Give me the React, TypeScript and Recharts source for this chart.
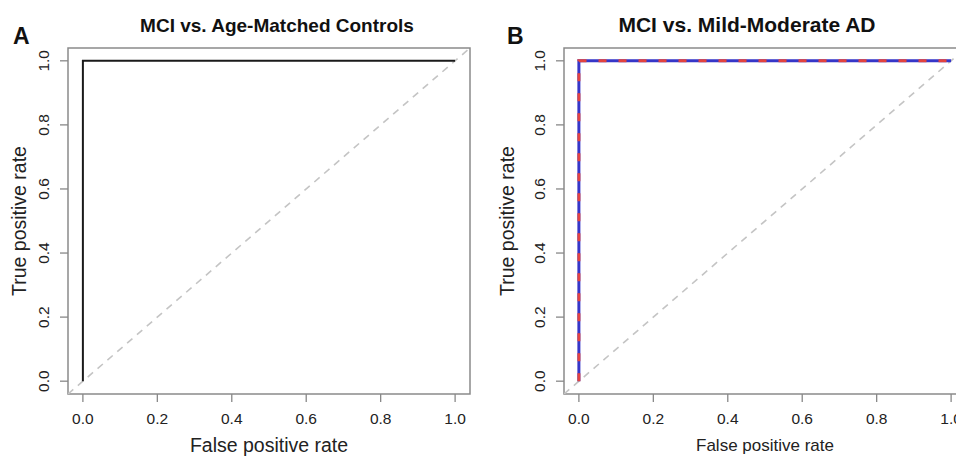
import { LineChart, Line, XAxis, YAxis, ReferenceArea } from "recharts";

// axis setup (R style, 4% padding each side)
const LIM = [-0.04, 1.04];
const TICKS = [0, 0.2, 0.4, 0.6, 0.8, 1];
const TICK_LABELS = ["0.0", "0.2", "0.4", "0.6", "0.8", "1.0"];

// chance diagonal
const chanceX = [-0.04, 1.04];
const chanceY = [-0.04, 1.04];

// panel A: MCI vs age-matched controls
const fprA = [0, 0, 1];
const tprA = [0, 1, 1];

// panel B: MCI vs mild-moderate AD (two overlapping curves)
const fprB1 = [0, 0, 1];
const tprB1 = [0, 1, 1];
const fprB2 = [0, 0, 1];
const tprB2 = [0, 1, 1];

const FONT = "'Liberation Sans', Arial, sans-serif";
const pts = (xs: number[], ys: number[]) => xs.map((x, i) => ({ x, y: ys[i] }));
const fmt = (v: number) => TICK_LABELS[TICKS.indexOf(v)] ?? v.toFixed(1);

function XTick({ x, y, payload, fs }: any) {
  return (
    <text x={x} y={y + 14} textAnchor="middle" dominantBaseline="central" fontSize={fs} fill="#222" fontFamily={FONT}>
      {fmt(payload.value)}
    </text>
  );
}

function YTick({ y, payload, cx, fs }: any) {
  return (
    <text x={cx} y={y} transform={`rotate(-90, ${cx}, ${y})`} textAnchor="middle" dominantBaseline="central" fontSize={fs} fill="#222" fontFamily={FONT}>
      {fmt(payload.value)}
    </text>
  );
}

function Panel({ width, left, yAxisW, yTickX, yLabelOff, xLabelFs, xLabelOff, children }: any) {
  return (
    <LineChart width={width} height={456} margin={{ top: 48, right: width - left - 402 - yAxisW, left: left, bottom: 0 }}>
      <XAxis type="number" dataKey="x" domain={LIM} ticks={TICKS} allowDataOverflow axisLine={false} tickSize={8}
        tickLine={{ stroke: "#888", strokeWidth: 1.3 }} height={62} tick={<XTick fs={15.5} />}
        label={{ value: "False positive rate", position: "insideBottom", offset: xLabelOff, style: { fontSize: xLabelFs, fill: "#222", fontFamily: FONT } }} />
      <YAxis type="number" dataKey="y" domain={LIM} ticks={TICKS} allowDataOverflow axisLine={false} tickSize={8}
        tickLine={{ stroke: "#888", strokeWidth: 1.3 }} width={yAxisW} tick={<YTick fs={15.5} cx={yTickX} />}
        label={{ value: "True positive rate", angle: -90, position: "insideLeft", offset: yLabelOff, style: { textAnchor: "middle", fontSize: 19.5, fill: "#222", fontFamily: FONT } }} />
      <ReferenceArea x1={LIM[0]} x2={LIM[1]} y1={LIM[0]} y2={LIM[1]} fill="none" fillOpacity={0} stroke="#8a8a8a" strokeWidth={1.5} ifOverflow="visible" />
      <Line data={pts(chanceX, chanceY)} dataKey="y" type="linear" dot={false} stroke="#c4c4c4" strokeWidth={1.6} strokeDasharray="7 6" isAnimationActive={false} />
      {children}
    </LineChart>
  );
}

export default function App() {
  return (
    <div style={{ position: "relative", width: 956, height: 456, overflow: "hidden", background: "#fff", fontFamily: FONT, color: "#111" }}>
      <style>{`body{margin:0}`}</style>
      <div style={{ position: "absolute", left: 0, top: 0 }}>
        <Panel width={480} left={0} yAxisW={68} yTickX={44} yLabelOff={19} xLabelFs={19.5} xLabelOff={4}>
          <Line data={pts(fprA, tprA)} dataKey="y" type="linear" dot={false} stroke="#1a1a1a" strokeWidth={2} isAnimationActive={false} />
        </Panel>
      </div>
      <div style={{ position: "absolute", left: 480, top: 0 }}>
        <Panel width={500} left={0} yAxisW={84} yTickX={60} yLabelOff={27} xLabelFs={17} xLabelOff={5}>
          <Line data={pts(fprB1, tprB1)} dataKey="y" type="linear" dot={false} stroke="#3636c8" strokeWidth={3} isAnimationActive={false} />
          <Line data={pts(fprB2, tprB2)} dataKey="y" type="linear" dot={false} stroke="#e2433f" strokeWidth={3} strokeDasharray="8 12" strokeLinecap="butt" isAnimationActive={false} />
        </Panel>
      </div>
      <div style={{ position: "absolute", left: 13, top: 25, fontSize: 23, fontWeight: 700, lineHeight: "23px" }}>A</div>
      <div style={{ position: "absolute", left: 507, top: 25, fontSize: 23, fontWeight: 700, lineHeight: "23px" }}>B</div>
      <div style={{ position: "absolute", left: 277, top: 15, transform: "translateX(-50%)", whiteSpace: "nowrap", fontSize: 19, fontWeight: 700, lineHeight: "22px" }}>MCI vs. Age-Matched Controls</div>
      <div style={{ position: "absolute", left: 747, top: 12, transform: "translateX(-50%)", whiteSpace: "nowrap", fontSize: 21, fontWeight: 700, lineHeight: "25px" }}>MCI vs. Mild-Moderate AD</div>
    </div>
  );
}
